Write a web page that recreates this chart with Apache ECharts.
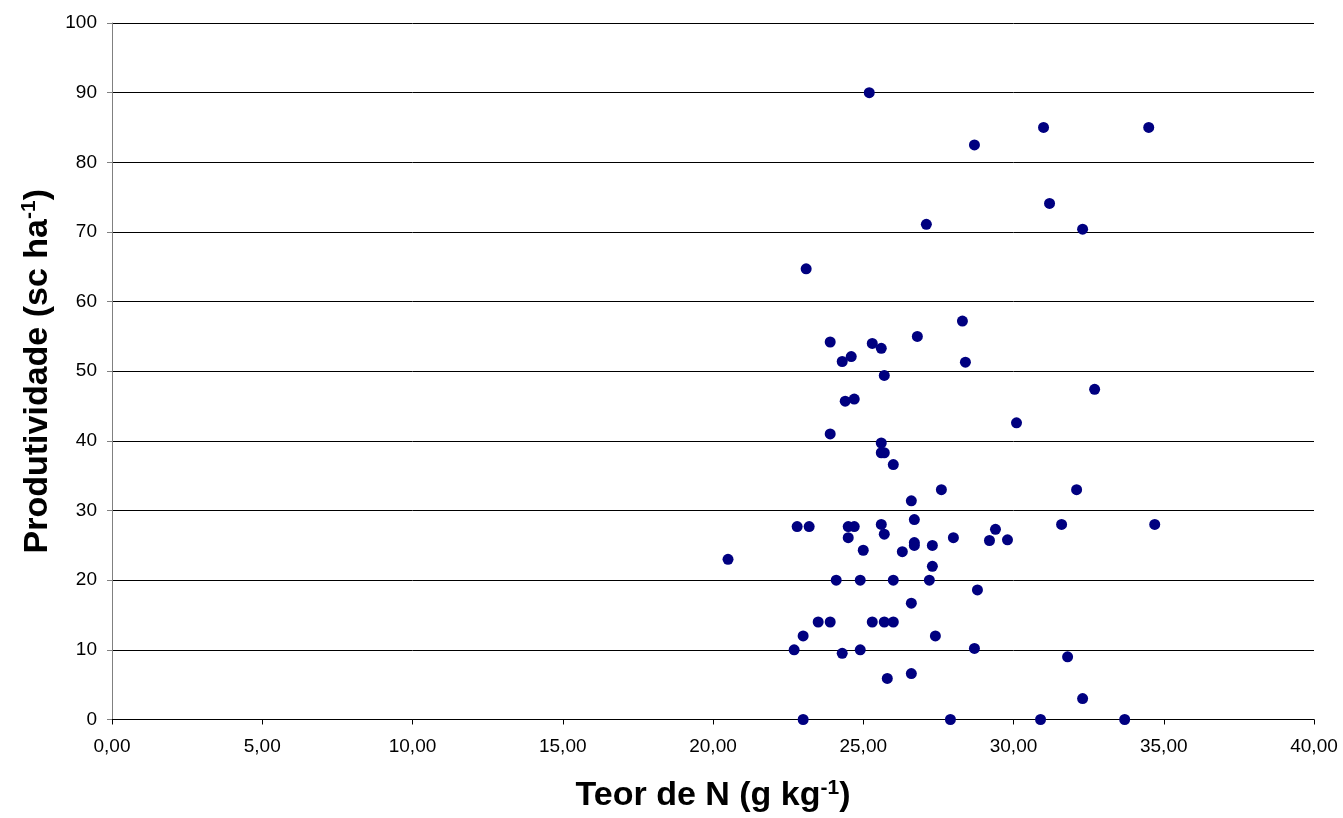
<!DOCTYPE html>
<html>
<head>
<meta charset="utf-8">
<script src="https://cdn.jsdelivr.net/npm/echarts@6/dist/echarts.min.js"></script>
<style>
  html, body { margin: 0; padding: 0; background: #fff; }
  #chart { width: 1343px; height: 818px; }
</style>
</head>
<body>
<div id="chart"></div>
<script>
// Teor de N (g kg-1)
const teorN = [
  20.5, 23.0, 27.9, 30.9, 33.7,
  25.2, 28.7, 31.0, 34.5, 31.2, 32.3, 27.1, 23.1,
  28.3, 23.9, 25.3, 26.8, 25.6, 24.6, 24.3, 28.4, 25.7,
  32.7, 24.7, 24.4, 30.1, 23.9, 25.6, 25.6, 25.7, 26.0,
  27.6, 32.1, 26.6, 22.8, 23.2, 24.5, 24.7, 25.6, 26.7, 31.6, 34.7,
  25.7, 29.4, 24.5, 28.0, 29.8, 29.2, 26.7, 26.7, 27.3, 25.0, 26.3,
  27.3, 24.1, 24.9, 26.0, 27.2, 28.8, 26.6,
  23.5, 23.9, 25.3, 25.7, 26.0, 23.0, 27.4,
  22.7, 24.3, 24.9, 28.7, 31.8, 26.6, 25.8, 32.3
]
// Produtividade (sc ha-1)
const produtividade = [
  23.0, 0, 0, 0, 0,
  90.0, 82.5, 85.0, 85.0, 74.1, 70.4, 71.1, 64.7,
  57.2, 54.2, 54.0, 55.0, 53.3, 52.1, 51.4, 51.3, 49.4,
  47.4, 46.0, 45.7, 42.6, 41.0, 39.7, 38.3, 38.3, 36.6,
  33.0, 33.0, 31.4, 27.7, 27.7, 27.7, 27.7, 28.0, 28.7, 28.0, 28.0,
  26.6, 27.3, 26.1, 26.1, 25.8, 25.7, 25.4, 25.0, 25.0, 24.3, 24.1,
  22.0, 20.0, 20.0, 20.0, 20.0, 18.6, 16.7,
  14.0, 14.0, 14.0, 14.0, 14.0, 12.0, 12.0,
  10.0, 9.5, 10.0, 10.2, 9.0, 6.6, 5.9, 3.0
]
const points = teorN.map((x, i) => [x, produtividade[i]])

const myChart = echarts.init(document.getElementById('chart'))
const labelFont = { fontFamily: 'Liberation Sans', fontSize: 19, color: '#000' }
const nameRich = {
  a: { fontFamily: 'Liberation Sans', fontSize: 34, fontWeight: 'bold', color: '#000' },
  b: { fontFamily: 'Liberation Sans', fontSize: 21, fontWeight: 'bold', color: '#000', verticalAlign: 'top', padding: [0, 0, 16, 0] }
}

const option = {
  animation: false,
  grid: { left: 112, right: 29, top: 23, bottom: 98, containLabel: false },
  xAxis: {
    type: 'value',
    min: 0,
    max: 40,
    interval: 5,
    name: '{a|Teor de N (g kg}{b|-1}{a|)}',
    nameLocation: 'middle',
    nameGap: 58,
    nameTextStyle: { rich: nameRich },
    axisLine: { show: true, lineStyle: { color: '#000', width: 1 } },
    axisTick: { show: true, length: 5, lineStyle: { color: '#000' } },
    axisLabel: {
      ...labelFont,
      margin: 18,
      formatter: v => v.toFixed(2).replace('.', ',')
    },
    splitLine: { show: false }
  },
  yAxis: {
    type: 'value',
    min: 0,
    max: 100,
    interval: 10,
    name: '{a|Produtividade (sc ha}{b|-1}{a|)}',
    nameLocation: 'middle',
    nameGap: 53,
    nameTextStyle: { rich: nameRich },
    axisLine: { show: true, lineStyle: { color: '#808080', width: 1 } },
    axisTick: { show: true, length: 5, lineStyle: { color: '#808080' } },
    axisLabel: { ...labelFont, margin: 15 },
    splitLine: { show: true, lineStyle: { color: '#000', width: 1 } }
  },
  series: [
    {
      type: 'scatter',
      data: points,
      symbol: 'circle',
      symbolSize: 11,
      itemStyle: { color: '#000080', opacity: 1 }
    }
  ]
}

option && myChart.setOption(option)
</script>
</body>
</html>
